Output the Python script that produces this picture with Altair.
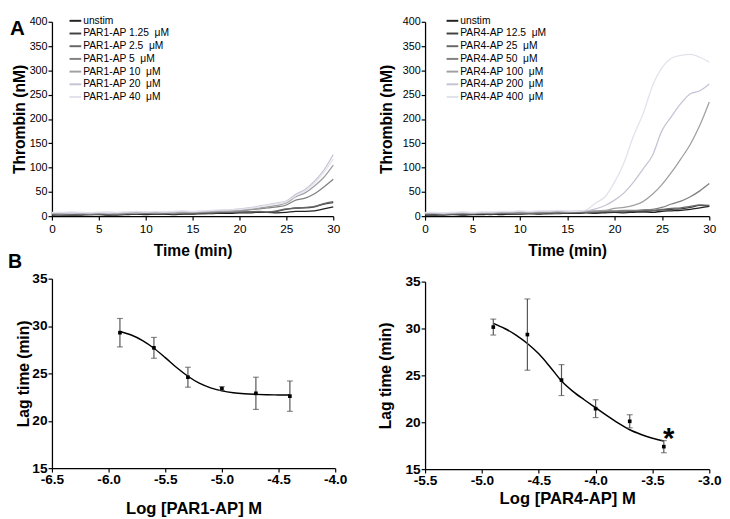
import altair as alt
import pandas as pd

FONT = "Liberation Sans"

# ---------------- Panel A data (thrombin generation curves) ----------------
time_min = list(range(31))

par1_series = ["unstim", "PAR1-AP 1.25\u00a0 μM", "PAR1-AP 2.5\u00a0 μM", "PAR1-AP 5\u00a0 μM",
               "PAR1-AP 10\u00a0 μM", "PAR1-AP 20\u00a0 μM", "PAR1-AP 40\u00a0 μM"]
par4_series = ["unstim", "PAR4-AP 12.5\u00a0 μM", "PAR4-AP 25\u00a0 μM", "PAR4-AP 50\u00a0 μM",
               "PAR4-AP 100\u00a0 μM", "PAR4-AP 200\u00a0 μM", "PAR4-AP 400\u00a0 μM"]
series_colors = ["#222222", "#404040", "#666666", "#808080", "#a0a0a0", "#c4c4d4", "#e2e2ec"]

par1_unstim = [2, 3, 2, 2, 3, 3, 2, 3, 3, 4, 3, 4, 4, 3, 4, 4, 5, 5, 6, 6, 7, 7, 8, 8, 7, 8, 10, 10, 11, 15, 19]
par1_1p25 = [3, 2, 3, 4, 3, 4, 3, 2, 4, 4, 5, 4, 5, 4, 5, 6, 5, 6, 7, 8, 8, 9, 9, 8, 10, 14, 17, 17, 19, 25, 28]
par1_2p5 = [4, 4, 3, 5, 4, 4, 5, 4, 5, 6, 5, 6, 6, 5, 6, 6, 7, 7, 8, 8, 9, 9, 10, 9, 11, 15, 16, 18, 20, 26, 30]
par1_5 = [5, 4, 5, 5, 4, 5, 5, 4, 6, 6, 7, 6, 7, 6, 7, 8, 8, 9, 10, 11, 11, 13, 15, 17, 19, 23, 33, 37, 46, 60, 76]
par1_10 = [6, 5, 6, 5, 6, 6, 5, 6, 7, 6, 8, 7, 8, 7, 8, 8, 9, 10, 10, 11, 12, 14, 16, 19, 22, 27, 40, 48, 62, 80, 105]
par1_20 = [7, 7, 6, 7, 7, 8, 6, 7, 8, 9, 8, 9, 8, 9, 10, 9, 10, 11, 12, 13, 15, 17, 20, 24, 27, 31, 45, 55, 72, 95, 127]
par1_40 = [8, 8, 9, 8, 7, 8, 9, 8, 9, 10, 9, 10, 9, 10, 11, 10, 11, 12, 13, 13, 14, 16, 19, 23, 26, 30, 42, 52, 68, 90, 118]

par4_unstim = [2, 2, 3, 3, 2, 3, 3, 4, 3, 4, 4, 5, 4, 5, 5, 6, 6, 7, 6, 7, 8, 7, 8, 9, 8, 10, 11, 12, 14, 17, 20]
par4_12p5 = [3, 3, 2, 4, 3, 4, 4, 3, 5, 4, 5, 5, 6, 5, 6, 7, 6, 8, 7, 8, 9, 9, 10, 9, 11, 13, 14, 15, 18, 22, 21]
par4_25 = [4, 5, 4, 4, 5, 5, 6, 5, 6, 6, 7, 6, 7, 7, 8, 7, 8, 9, 9, 10, 10, 11, 11, 12, 12, 14, 16, 17, 20, 23, 22]
par4_50 = [5, 5, 4, 6, 5, 5, 6, 6, 7, 7, 6, 8, 7, 8, 7, 8, 9, 9, 10, 11, 11, 12, 12, 13, 14, 18, 25, 31, 40, 52, 67]
par4_100 = [6, 6, 5, 6, 7, 6, 7, 7, 8, 8, 9, 8, 9, 9, 10, 9, 10, 11, 11, 12, 16, 18, 22, 30, 45, 65, 90, 118, 148, 187, 235]
par4_200 = [7, 7, 6, 7, 8, 7, 8, 8, 9, 9, 10, 9, 10, 10, 11, 10, 10, 11, 15, 22, 33, 48, 70, 97, 125, 176, 205, 232, 252, 258, 272]
par4_400 = [8, 8, 7, 8, 9, 8, 9, 9, 10, 10, 11, 10, 11, 11, 12, 11, 10, 13, 27, 40, 70, 110, 165, 210, 268, 305, 325, 331, 333, 327, 317]

# ---------------- Panel B data (lag time vs log concentration) ----------------
par1_logc = [-5.9, -5.6, -5.3, -5.0, -4.7, -4.4]
par1_lag = [29.3, 27.7, 24.6, 23.4, 22.9, 22.6]
par1_sem = [1.5, 1.1, 1.05, 0.2, 1.7, 1.6]
par1_fit_x = [-5.9, -5.8, -5.7, -5.6, -5.5, -5.4, -5.3, -5.2, -5.1, -5.0, -4.9, -4.8, -4.7, -4.6, -4.5, -4.4]
par1_fit_y = [29.43, 29.05, 28.47, 27.66, 26.67, 25.62, 24.70, 23.97, 23.48, 23.16, 22.96, 22.85, 22.79, 22.75, 22.73, 22.72]

par4_logc = [-4.9, -4.6, -4.3, -4.0, -3.7, -3.4]
par4_lag = [30.15, 29.35, 24.5, 21.45, 20.1, 17.4]
par4_sem = [0.85, 3.8, 1.65, 0.95, 0.7, 0.65]
par4_fit_x = [-4.9, -4.8, -4.7, -4.6, -4.5, -4.4, -4.3, -4.2, -4.1, -4.0, -3.9, -3.8, -3.7, -3.6, -3.5, -3.4]
par4_fit_y = [30.55, 30.0, 29.3, 28.4, 27.3, 25.9, 24.4, 23.3, 22.4, 21.55, 20.7, 19.9, 19.2, 18.7, 18.3, 18.0]
star_x = [-3.4]
star_y = [19.2]
star_text = ["*"]


def minus_fix(fmt):
    return f"replace(format(datum.value, '{fmt}'), '\u2212', '-')"


def thrombin_panel(names, colors, series_values, w, h, title_pad, field, leg_x):
    rows = []
    for i, (name, vals) in enumerate(zip(names, series_values)):
        for t, v in zip(time_min, vals):
            rows.append({"time": t, "thrombin": v, field: name, "idx": i})
    df = pd.DataFrame(rows)
    return alt.Chart(df).mark_line(strokeWidth=1.3, interpolate="monotone").encode(
        x=alt.X("time:Q", scale=alt.Scale(domain=[0, 30], nice=False),
                axis=alt.Axis(values=[0, 5, 10, 15, 20, 25, 30], title="Time (min)",
                              titleFontSize=16, titlePadding=8, labelFontSize=12,
                              labelPadding=4, labelFontWeight="normal")),
        y=alt.Y("thrombin:Q", scale=alt.Scale(domain=[0, 400], nice=False),
                axis=alt.Axis(values=list(range(0, 401, 50)), title="Thrombin (nM)",
                              titleFontSize=16, titlePadding=title_pad, labelFontSize=11,
                              labelFontWeight="normal")),
        color=alt.Color(f"{field}:N", sort=names,
                        scale=alt.Scale(domain=names, range=colors),
                        legend=alt.Legend(title=None, orient="none", legendX=leg_x, legendY=-8,
                                          symbolType="stroke", symbolSize=144,
                                          symbolStrokeWidth=2, labelFontSize=10.5,
                                          labelFont=FONT, rowPadding=0,
                                          labelOffset=1, padding=0, symbolOffset=0)),
        order=alt.Order("idx:Q"),
    ).properties(width=w, height=h)


def lag_panel(logc, lag, sem, fit_x, fit_y, domain_x, xtitle, w, h, xtitle_pad, ytitle_pad):
    pts = pd.DataFrame({"logc": logc, "lag": lag,
                        "lo": [a - b for a, b in zip(lag, sem)],
                        "hi": [a + b for a, b in zip(lag, sem)]})
    fit = pd.DataFrame({"logc": fit_x, "lag": fit_y})
    ticks = [round(domain_x[0] + 0.5 * i, 1) for i in range(6)]
    xenc = alt.X("logc:Q", scale=alt.Scale(domain=domain_x, nice=False, zero=False),
                 axis=alt.Axis(values=ticks, title=xtitle, titleFontSize=17,
                               titlePadding=xtitle_pad, labelExpr=minus_fix(".1f")))
    yscale = alt.Scale(domain=[15, 35], nice=False, zero=False)
    yaxis = alt.Axis(values=[15, 20, 25, 30, 35], title="Lag time (min)", titleFontSize=16,
                     titlePadding=ytitle_pad)
    curve = alt.Chart(fit).mark_line(color="black", strokeWidth=1.5, interpolate="monotone").encode(
        x=xenc, y=alt.Y("lag:Q", scale=yscale, axis=yaxis))
    err = alt.Chart(pts).mark_rule(color="#555555", strokeWidth=1.2).encode(
        x="logc:Q", y="lo:Q", y2="hi:Q")
    cap_lo = alt.Chart(pts).mark_tick(orient="horizontal", size=6, thickness=1.2,
                                      color="#555555").encode(x="logc:Q", y="lo:Q")
    cap_hi = alt.Chart(pts).mark_tick(orient="horizontal", size=6, thickness=1.2,
                                      color="#555555").encode(x="logc:Q", y="hi:Q")
    dots = alt.Chart(pts).mark_square(size=14, color="black", opacity=1).encode(
        x="logc:Q", y="lag:Q")
    return alt.layer(curve, err, cap_lo, cap_hi, dots).properties(width=w, height=h)


label_df = pd.DataFrame({"lab": ["A"]})
label_b_df = pd.DataFrame({"lab": ["B"]})

top_left = thrombin_panel(par1_series, series_colors,
                          [par1_unstim, par1_1p25, par1_2p5, par1_5, par1_10, par1_20, par1_40],
                          288, 199, 2, "series_par1", 17)
lab_a = alt.Chart(label_df).mark_text(fontSize=21, fontWeight="bold", font=FONT, align="left",
                                      baseline="middle", clip=False).encode(
    text="lab:N", x=alt.value(-43), y=alt.value(8))
lab_b = alt.Chart(label_b_df).mark_text(fontSize=20, fontWeight="bold", font=FONT, align="left",
                                        baseline="middle", clip=False).encode(
    text="lab:N", x=alt.value(-45), y=alt.value(246))
top_left = alt.layer(top_left, lab_a, lab_b)

top_right = thrombin_panel(par4_series, series_colors,
                           [par4_unstim, par4_12p5, par4_25, par4_50, par4_100, par4_200, par4_400],
                           291, 199, 8, "series_par4", 21)

bottom_left = lag_panel(par1_logc, par1_lag, par1_sem, par1_fit_x, par1_fit_y, [-6.5, -4.0],
                        "Log [PAR1-AP] M", 290, 194, 14, 0)

star_df = pd.DataFrame({"logc": star_x, "lag": star_y, "t": star_text})
bottom_right = lag_panel(par4_logc, par4_lag, par4_sem, par4_fit_x, par4_fit_y, [-5.5, -3.0],
                         "Log [PAR4-AP] M", 291, 192, 3, 12)
star = alt.Chart(star_df).mark_text(fontSize=30, fontWeight="bold", font=FONT, baseline="middle",
                                    dx=5, dy=10).encode(x="logc:Q", y="lag:Q", text="t:N")
bottom_right = alt.layer(bottom_right, star)

left_col = alt.vconcat(top_left, bottom_left, spacing=0)
right_col = alt.vconcat(top_right, bottom_right, spacing=17)

chart = alt.hconcat(left_col, right_col, spacing=30).resolve_scale(
    color="independent"
).properties(padding=0).configure_view(
    stroke=None
).configure_axis(
    labelFont=FONT, titleFont=FONT, labelFontSize=14, labelFontWeight="bold",
    titleFontWeight="bold", labelColor="black", titleColor="black",
    domainColor="black", tickColor="black", domainWidth=1.3, tickWidth=1.2, tickSize=4,
    labelPadding=1, labelFlush=False, grid=False
).configure_text(font=FONT)

chart.save("out.html", embed_options={"renderer": "svg", "actions": False})
